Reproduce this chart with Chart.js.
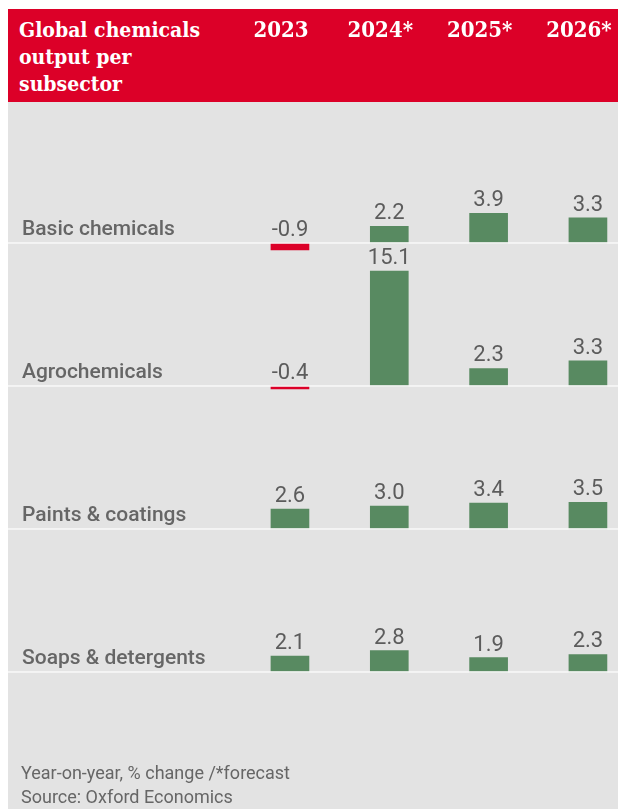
<!DOCTYPE html>
<html>
<head>
<meta charset="utf-8">
<script src="https://cdn.jsdelivr.net/npm/chart.js@4.4.1/dist/chart.umd.min.js"></script>
<style>
  html, body { margin:0; padding:0; overflow:hidden; width:618px; height:809px; background:#fff; }
  #panel { position:absolute; left:8px; top:102px; width:610px; height:707px; background:#e3e3e3; }
  #header { position:absolute; left:8px; top:9px; width:610px; height:93px; background:#dc0028; }
  #title { position:absolute; left:19px; top:16px; color:#fff; font-family:"DejaVu Serif Condensed","DejaVu Serif",serif; font-weight:bold; font-size:21px; line-height:27px; white-space:nowrap; }
  #wrap { position:absolute; left:0; top:0; width:660px; height:809px; }
  #foot { position:absolute; left:21px; top:761px; color:#666; font-family:Roboto,sans-serif; font-size:18px; line-height:24px; white-space:nowrap; }
</style>
</head>
<body>
<div id="panel"></div>
<div id="header"></div>
<div id="title">Global chemicals<br>output per<br>subsector</div>
<div id="wrap"><canvas id="c" width="660" height="809"></canvas></div>
<div id="foot">Year-on-year, % change /*forecast<br>Source: Oxford Economics</div>
<script>
// ---- data ----
const years = ['2023', '2024*', '2025*', '2026*'];
const subsectors = ['Basic chemicals', 'Agrochemicals', 'Paints & coatings', 'Soaps & detergents'];
const basicChemicals = [-0.9, 2.2, 3.9, 3.3];
const agrochemicals = [-0.4, 15.1, 2.3, 3.3];
const paintsCoatings = [2.6, 3.0, 3.4, 3.5];
const soapsDetergents = [2.1, 2.8, 1.9, 2.3];
const rowValues = [basicChemicals, agrochemicals, paintsCoatings, soapsDetergents];

const GREEN = '#588a61';
const RED = '#dc0028';
const ROW_MIN = -1.2, ROW_MAX = 17.6;

const datasets = rowValues.map((vals, i) => ({
  label: subsectors[i],
  data: vals,
  yAxisID: 'r' + i,
  grouped: false,
  barThickness: 38,
  borderWidth: 0,
  clip: false,
  backgroundColor: vals.map(v => v < 0 ? RED : GREEN)
}));

const scales = {
  x: {
    type: 'category',
    position: 'top',
    offset: true,
    grid: { display: true, color: 'rgba(0,0,0,0)', drawOnChartArea: false, drawTicks: true, tickLength: 62.4 },
    border: { display: false },
    ticks: {
      color: '#ffffff',
      font: { family: '"DejaVu Serif Condensed", "DejaVu Serif"', size: 22, weight: 'bold', lineHeight: 1.2 },
      padding: 2,
      labelOffset: -9,
      maxRotation: 0,
      autoSkip: false
    }
  }
};
rowValues.forEach((_, i) => {
  scales['r' + i] = {
    type: 'linear',
    position: 'left',
    stack: 'rows',
    stackWeight: 1,
    weight: 10 - i,
    min: ROW_MIN,
    max: ROW_MAX,
    display: true,
    ticks: { display: false },
    grid: { display: false, drawTicks: false },
    border: { display: false }
  };
});

const rowPlugin = {
  id: 'rowPlugin',
  afterDatasetsDraw(chart) {
    const ctx = chart.ctx;
    ctx.save();
    rowValues.forEach((vals, i) => {
      const sc = chart.scales['r' + i];
      const p0 = sc.getPixelForValue(0);
      // separator line
      ctx.fillStyle = '#f7f7f7';
      ctx.fillRect(8, p0 - 0.8, 610, 1.6);
      // row label
      ctx.fillStyle = '#666666';
      ctx.font = '500 21px Roboto';
      ctx.textAlign = 'left';
      ctx.textBaseline = 'alphabetic';
      ctx.fillText(subsectors[i], 22, p0 - 8);
      // value labels
      const meta = chart.getDatasetMeta(i);
      ctx.fillStyle = '#5c5c5c';
      ctx.font = '400 22px Roboto';
      ctx.textAlign = 'center';
      meta.data.forEach((bar, j) => {
        const top = Math.min(bar.y, bar.base);
        ctx.fillText(vals[j].toFixed(1), bar.x, top - 7);
      });
    });
    ctx.restore();
  }
};

new Chart(document.getElementById('c'), {
  type: 'bar',
  data: { labels: years, datasets },
  options: {
    responsive: false,
    devicePixelRatio: 1,
    animation: false,
    layout: { padding: { left: 240.3, right: 22.4, top: 16.3, bottom: 127.9 } },
    plugins: { legend: { display: false }, tooltip: { enabled: false } },
    scales
  },
  plugins: [rowPlugin]
});
</script>
</body>
</html>
